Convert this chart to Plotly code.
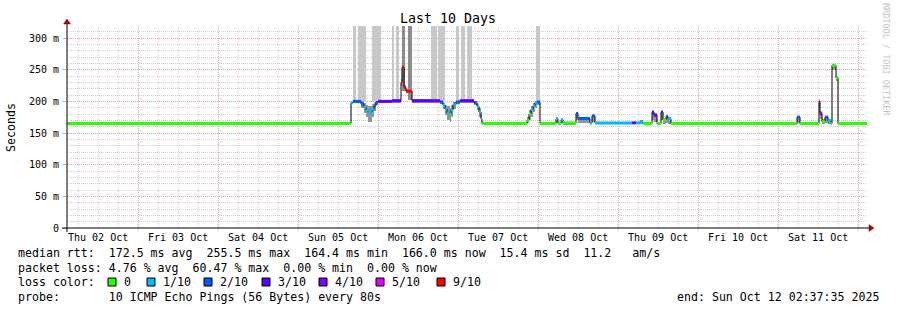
import plotly.graph_objects as go
import pandas as pd

# ---------------- data ----------------
START = "2025-10-02 02:37:35"
SPAN_H = 240  # last 10 days

# median rtt segments: start time (hours since START), median (ms), lost pings of 10, smoke lo/hi (ms)
seg_t = [0, 85.2, 85.8, 88.2, 89.1, 89.7, 90.3, 91.5, 92.1, 92.7, 93.3, 97.5, 100.2, 100.5, 101.1,
         101.7, 103.5, 111.9, 112.8, 113.4, 114.0, 114.9, 115.2, 115.8, 116.7, 117.9, 122.1, 123.0,
         123.6, 124.2, 124.5, 138.0, 138.6, 139.2, 139.8, 140.4, 141.0, 141.9, 146.7, 147.3, 148.2,
         148.8, 152.7, 153.3, 156.9, 157.5, 158.4, 169.5, 170.7, 171.9, 172.8, 175.5, 176.1, 177.0,
         178.2, 178.8, 179.7, 180.3, 181.2, 219.0, 219.9, 225.6, 225.9, 226.5, 227.4, 228.3, 229.2,
         229.5, 230.7, 231.3]
seg_median = [165, 198, 200, 196, 191, 186, 183, 187, 193, 198, 200, 201, 230, 254, 222,
              216, 201, 199, 194, 188, 182, 180, 186, 195, 199, 201, 198, 192,
              183, 172, 165, 170, 180, 187, 193, 198, 199, 165, 172, 166, 171,
              166, 181, 173, 166, 177, 166, 166, 166, 168, 165, 183, 178, 165,
              183, 171, 176, 172, 165, 175, 165, 200, 181, 168, 175, 169, 165,
              257, 237, 165]
seg_loss = [0, 1, 2, 2, 1, 1, 1, 1, 2, 2, 3, 3, 9, 9, 9,
            9, 3, 2, 1, 1, 1, 0, 1, 1, 2, 3, 2, 1,
            1, 1, 0, 0, 0, 1, 1, 1, 2, 0, 1, 0, 1,
            0, 2, 2, 1, 2, 1, 3, 1, 1, 0, 3, 3, 0,
            3, 0, 2, 1, 0, 2, 0, 9, 4, 0, 2, 1, 0,
            0, 0, 0]
seg_lo = [163, 196, 197, 190, 182, 175, 168, 175, 185, 194, 198, 198, 225, 248, 216,
          213, 198, 196, 188, 178, 170, 168, 175, 188, 196, 198, 194, 186,
          176, 168, 163, 166, 170, 176, 183, 190, 194, 163, 166, 163, 166,
          163, 170, 166, 164, 168, 164, 164, 164, 164, 163, 170, 168, 163,
          170, 165, 166, 165, 163, 166, 163, 190, 172, 164, 166, 164, 163,
          250, 232, 163]
seg_hi = [168, 201, 202, 200, 198, 195, 193, 196, 199, 201, 202, 203, 235, 256, 226,
          219, 203, 201, 198, 195, 192, 190, 194, 199, 202, 203, 200, 196,
          190, 178, 168, 175, 186, 192, 197, 200, 201, 168, 175, 168, 174,
          168, 183, 176, 168, 179, 168, 168, 168, 170, 168, 185, 181, 168,
          185, 174, 178, 175, 168, 177, 168, 202, 184, 172, 177, 172, 168,
          259, 240, 168]

# periods with lost pings (smoke drawn up to the top): start/end hours, lower edge (ms), shade
lb_t0 = [85.8, 87.3, 91.5, 97.5, 98.7, 100.5, 102.3, 109.2, 111.3, 116.7, 118.2, 120.0, 140.7]
lb_t1 = [86.7, 89.7, 94.2, 98.1, 99.6, 101.4, 103.5, 111.0, 113.4, 117.6, 119.4, 121.5, 141.9]
lb_base = [200, 200, 200, 201, 201, 216, 202, 201, 201, 200, 201, 201, 199]
lb_dark = [0, 0, 0, 0, 0, 1, 1, 0, 0, 0, 0, 0, 0]

loss_levels = [0, 1, 2, 3, 4, 5, 9]
loss_labels = ["0", "1/10", "2/10", "3/10", "4/10", "5/10", "9/10"]
loss_colors = ["#26ff00", "#00b8ff", "#0059ff", "#5e00ff", "#7e00ff", "#dd00ff", "#ff0000"]

day_noon = ["2025-10-02 12:00", "2025-10-03 12:00", "2025-10-04 12:00", "2025-10-05 12:00",
            "2025-10-06 12:00", "2025-10-07 12:00", "2025-10-08 12:00", "2025-10-09 12:00",
            "2025-10-10 12:00", "2025-10-11 12:00"]
day_labels = ["Thu 02 Oct", "Fri 03 Oct", "Sat 04 Oct", "Sun 05 Oct", "Mon 06 Oct",
              "Tue 07 Oct", "Wed 08 Oct", "Thu 09 Oct", "Fri 10 Oct", "Sat 11 Oct"]
ytick_vals = [0, 50, 100, 150, 200, 250, 300]
ytick_text = ["0", "50 m", "100 m", "150 m", "200 m", "250 m", "300 m"]
Y_TOP = 319

title_text = "Last 10 Days"
stat_median = "median rtt:  172.5 ms avg  255.5 ms max  164.4 ms min  166.0 ms now  15.4 ms sd  11.2   am/s"
stat_loss = "packet loss: 4.76 % avg  60.47 % max  0.00 % min  0.00 % now"
probe_text = "probe:       10 ICMP Echo Pings (56 Bytes) every 80s"
end_text = "end: Sun Oct 12 02:37:35 2025"
side_text = "RRDTOOL / TOBI OETIKER"

# ---------------- figure ----------------
W, H = 897, 310
L, R, T, B = 67, 30, 26, 82
PW, PH = W - L - R, H - T - B
FONT = "DejaVu Sans Mono"


def px(x):
    return (x - L) / PW


def py(y):
    return (T + PH - y) / PH


def nb(s):
    return s.replace(" ", "\u00a0")


start = pd.Timestamp(START)
end = start + pd.Timedelta(hours=SPAN_H)


def ts(h):
    return start + pd.to_timedelta(h, unit="h")


seg_end = seg_t[1:] + [SPAN_H]
fig = go.Figure()

# smoke bands
mids = [ts((a + b) / 2) for a, b in zip(seg_t, seg_end)]
widths = [(b - a) * 3600 * 1000 for a, b in zip(seg_t, seg_end)]
fig.add_trace(go.Bar(x=mids, width=widths, base=seg_lo,
                     y=[h - l for h, l in zip(seg_hi, seg_lo)],
                     marker=dict(color="#959595", line=dict(width=0)), hoverinfo="skip"))

# loss smoke (to top)
fig.add_trace(go.Bar(x=[ts((a + b) / 2) for a, b in zip(lb_t0, lb_t1)],
                     width=[(b - a) * 3600 * 1000 for a, b in zip(lb_t0, lb_t1)],
                     base=lb_base, y=[Y_TOP - b for b in lb_base],
                     marker=dict(color=["#8c8c8c" if d else "#c8c8c8" for d in lb_dark], line=dict(width=0)),
                     hoverinfo="skip"))

# black median step line
fig.add_trace(go.Scatter(x=[ts(t) for t in seg_t] + [end], y=seg_median + [seg_median[-1]],
                         mode="lines", line=dict(color="#000000", width=1, shape="hv"), hoverinfo="skip"))

# colored median segments by loss
for lev, col in zip(loss_levels, loss_colors):
    xs, ys = [], []
    for a, b, m, lo in zip(seg_t, seg_end, seg_median, seg_loss):
        if lo == lev:
            xs += [ts(a), ts(b), None]
            ys += [m, m, None]
    if xs:
        fig.add_trace(go.Scatter(x=xs, y=ys, mode="lines", line=dict(color=col, width=3),
                                 hoverinfo="skip"))

shapes = []
# vertical grid: every 6 h gray, midnight red
t = pd.Timestamp(start.date()) + pd.Timedelta(hours=6)
while t < end:
    major = t.hour == 0
    shapes.append(dict(type="line", xref="x", yref="paper", x0=t, x1=t,
                       y0=-3 / PH if major else 0, y1=1, layer="below",
                       line=dict(color="#e39a9a" if major else "#cfcfcf", width=1, dash="1px,1px")))
    t += pd.Timedelta(hours=6)

# axes with arrows
AX = "#000000"
ARROW = "#8b1010"
shapes.append(dict(type="line", xref="paper", yref="paper", x0=px(62), x1=px(870), y0=0, y1=0,
                   line=dict(color=AX, width=1), layer="above"))
shapes.append(dict(type="line", xref="paper", yref="paper", x0=0, x1=0, y0=py(232), y1=py(23),
                   line=dict(color=AX, width=1), layer="above"))
shapes.append(dict(type="path", xref="paper", yref="paper",
                   path=f"M {px(869)} {py(224.5)} L {px(874)} {py(228)} L {px(869)} {py(231.5)} Z",
                   fillcolor=ARROW, line=dict(color=ARROW, width=0.5), layer="above"))
shapes.append(dict(type="path", xref="paper", yref="paper",
                   path=f"M {px(63.5)} {py(24)} L {px(67)} {py(19)} L {px(70.5)} {py(24)} Z",
                   fillcolor=ARROW, line=dict(color=ARROW, width=0.5), layer="above"))

annotations = []
# x tick labels
for d, lab in zip(day_noon, day_labels):
    annotations.append(dict(x=pd.Timestamp(d), xref="x", y=py(237.5), yref="paper", text=nb(lab),
                            showarrow=False, xanchor="center", yanchor="middle",
                            font=dict(family=FONT, size=10, color="#000")))

# title, axis title, side text
annotations.append(dict(x=px(448), y=py(19), xref="paper", yref="paper", text=nb(title_text),
                        showarrow=False, xanchor="center", yanchor="middle",
                        font=dict(family=FONT, size=13.3, color="#000")))
annotations.append(dict(x=px(11), y=py(127), xref="paper", yref="paper", text="Seconds",
                        showarrow=False, textangle=-90, xanchor="center", yanchor="middle",
                        font=dict(family=FONT, size=11.6, color="#000")))
annotations.append(dict(x=px(886), y=py(59), xref="paper", yref="paper", text=nb(side_text),
                        showarrow=False, textangle=90, xanchor="center", yanchor="middle",
                        font=dict(family=FONT, size=8.5, color="#c4c4c4")))

# statistics lines
for text, ycen in [(stat_median, 253.5), (stat_loss, 267.5), (probe_text, 296.5)]:
    annotations.append(dict(x=px(16), y=py(ycen), xref="paper", yref="paper", text=nb(text),
                            showarrow=False, xanchor="left", yanchor="middle",
                            font=dict(family=FONT, size=11.6, color="#000")))
annotations.append(dict(x=px(881), y=py(296.5), xref="paper", yref="paper", text=nb(end_text),
                        showarrow=False, xanchor="right", yanchor="middle",
                        font=dict(family=FONT, size=11.6, color="#000")))
annotations.append(dict(x=px(16), y=py(282), xref="paper", yref="paper", text=nb("loss color:"),
                        showarrow=False, xanchor="left", yanchor="middle",
                        font=dict(family=FONT, size=11.6, color="#000")))
box_left = [108, 147, 204, 262, 319, 376, 437]
for bx, lab, col in zip(box_left, loss_labels, loss_colors):
    shapes.append(dict(type="rect", xref="paper", yref="paper", x0=px(bx), x1=px(bx + 8),
                       y0=py(286), y1=py(278), fillcolor=col, line=dict(color="#000", width=1),
                       layer="above"))
    annotations.append(dict(x=px(bx + 14), y=py(282), xref="paper", yref="paper", text=nb(lab),
                            showarrow=False, xanchor="left", yanchor="middle",
                            font=dict(family=FONT, size=11.6, color="#000")))

fig.update_layout(
    width=W, height=H, margin=dict(l=L, r=R, t=T, b=B, pad=0),
    paper_bgcolor="#ffffff", plot_bgcolor="#ffffff",
    showlegend=False, barmode="overlay", bargap=0,
    shapes=shapes, annotations=annotations,
    xaxis=dict(type="date", range=[start, end], showgrid=False, showticklabels=False,
               showline=False, zeroline=False, ticks="", fixedrange=True),
    yaxis=dict(range=[0, Y_TOP], tickmode="array", tickvals=ytick_vals, ticktext=ytick_text,
               showgrid=True, gridcolor="#e39a9a", griddash="1px,1px", gridwidth=1,
               zeroline=False, showline=False, ticks="outside", ticklen=3, tickcolor="#e39a9a",
               tickfont=dict(family=FONT, size=10, color="#000"), ticklabelstandoff=2,
               minor=dict(dtick=10, showgrid=True, gridcolor="#cfcfcf", griddash="1px,1px",
                          ticks="", gridwidth=1),
               fixedrange=True),
)

fig.write_html("out.html")
